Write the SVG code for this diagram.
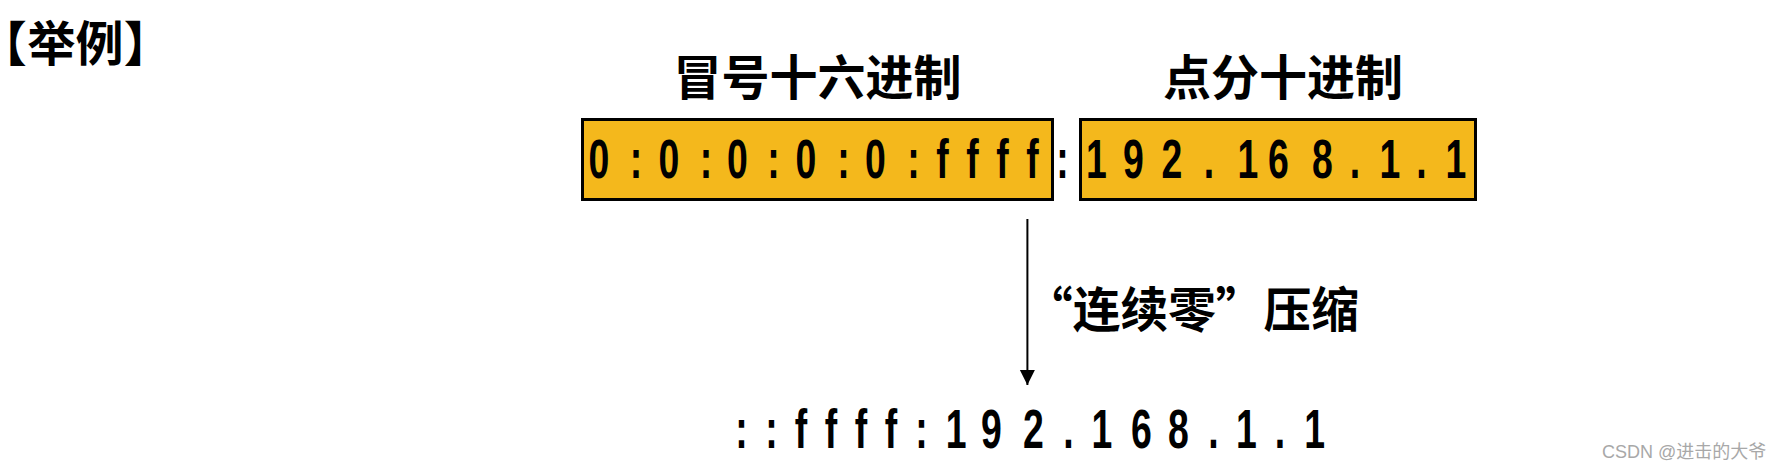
<svg xmlns="http://www.w3.org/2000/svg" width="1788" height="472" viewBox="0 0 1788 472">
  <style>
    .cjk { font-family: "Noto Sans CJK SC", "Noto Sans", sans-serif; font-weight: 700; fill: #000; }
    .palt { font-feature-settings: "palt" 1; }
    .mono { font-family: "Liberation Sans", Arial, sans-serif; font-weight: 700; font-size: 55px; fill: #000; text-anchor: middle; }
    .box { fill: #F4B81C; stroke: #000; stroke-width: 3; }
    .wm { font-family: "Liberation Sans", "Noto Sans CJK SC", sans-serif; font-size: 18px; fill: #A8A8A8; }
  </style>
  <defs>
    <marker id="arrow" markerUnits="userSpaceOnUse" markerWidth="16" markerHeight="16" refX="15" refY="7.5" orient="auto">
      <path d="M0,0 L15,7.5 L0,15 Z" fill="#000"/>
    </marker>
  </defs>

  <g id="title">
    <text class="cjk palt" x="1.5" y="61" font-size="48"><tspan>【</tspan><tspan x="27.5">举例</tspan><tspan x="125">】</tspan></text>
  </g>

  <g id="heading-hex">
    <text class="cjk" x="817.5" y="95" font-size="48" text-anchor="middle">冒号十六进制</text>
  </g>
  <g id="heading-dec">
    <text class="cjk" x="1283" y="95" font-size="48" text-anchor="middle">点分十进制</text>
  </g>

  <g id="box-hex">
    <rect class="box" x="582.5" y="119.5" width="470" height="80"/>
    <text class="mono" transform="scale(0.68,1)" y="178"><tspan x="880.9">0</tspan><tspan x="935.3">:</tspan><tspan x="983.8">0</tspan><tspan x="1038.2">:</tspan><tspan x="1084.6">0</tspan><tspan x="1137.5">:</tspan><tspan x="1185.3">0</tspan><tspan x="1240.4">:</tspan><tspan x="1287.5">0</tspan><tspan x="1343.4">:</tspan><tspan x="1386.0">f</tspan><tspan x="1430.1">f</tspan><tspan x="1474.3">f</tspan><tspan x="1518.4">f</tspan></text>
  </g>

  <g id="colon">
    <text class="mono" transform="scale(0.68,1)" x="1562.5" y="178">:</text>
  </g>

  <g id="box-dec">
    <rect class="box" x="1080.5" y="119.5" width="395" height="80"/>
    <text class="mono" transform="scale(0.68,1)" y="178"><tspan x="1612.2">1</tspan><tspan x="1666.9">9</tspan><tspan x="1723.5">2</tspan><tspan x="1777.9">.</tspan><tspan x="1835.0">1</tspan><tspan x="1880.1">6</tspan><tspan x="1944.9">8</tspan><tspan x="1992.6">.</tspan><tspan x="2043.8">1</tspan><tspan x="2090.4">.</tspan><tspan x="2140.9">1</tspan></text>
  </g>

  <g id="connectors">
    <line x1="1027.4" y1="219" x2="1027.4" y2="385" stroke="#000" stroke-width="2" marker-end="url(#arrow)"/>
  </g>

  <g id="label">
    <text class="cjk" x="1025" y="327" font-size="48" textLength="334" lengthAdjust="spacingAndGlyphs">“连续零”压缩</text>
  </g>

  <g id="result">
    <text class="mono" transform="scale(0.68,1)" y="448"><tspan x="1090.4">:</tspan><tspan x="1134.6">:</tspan><tspan x="1177.9">f</tspan><tspan x="1222.1">f</tspan><tspan x="1266.2">f</tspan><tspan x="1310.3">f</tspan><tspan x="1355.1">:</tspan><tspan x="1406.3">1</tspan><tspan x="1458.1">9</tspan><tspan x="1519.9">2</tspan><tspan x="1571.3">.</tspan><tspan x="1620.3">1</tspan><tspan x="1678.7">6</tspan><tspan x="1733.1">8</tspan><tspan x="1784.6">.</tspan><tspan x="1832.8">1</tspan><tspan x="1882.4">.</tspan><tspan x="1933.5">1</tspan></text>
  </g>

  <g id="watermark">
    <text class="wm" x="1602" y="458">CSDN @进击的大爷</text>
  </g>
</svg>
